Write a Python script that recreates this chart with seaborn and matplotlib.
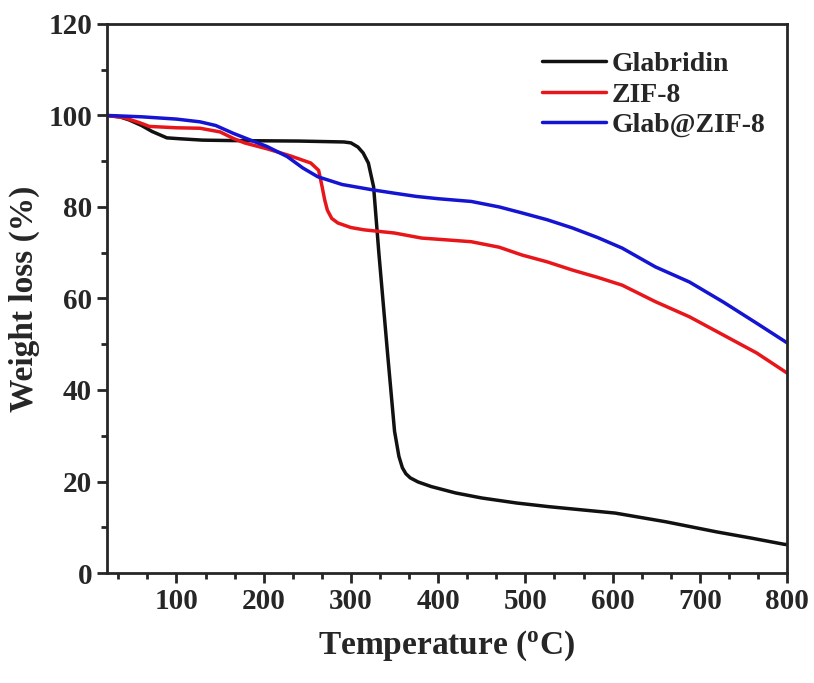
import numpy as np
import pandas as pd
import matplotlib
matplotlib.use("Agg")
import matplotlib.pyplot as plt
import seaborn as sns
from matplotlib.ticker import MultipleLocator, AutoMinorLocator

# TGA curves
glab_t = [20, 35, 46, 60, 72, 89, 104, 130, 165, 240, 292, 300, 308, 314, 320, 326, 332,
          342, 350, 355, 359, 363, 368, 377, 392, 420, 450, 490, 527, 565, 603, 661, 719, 760, 796, 800]
glab_w = [100, 99.7, 99, 97.8, 96.5, 95.1, 94.9, 94.6, 94.5, 94.4, 94.2, 94.0, 93.1, 91.8, 89.6, 84.4, 70,
          48, 31, 25.5, 23.0, 21.7, 20.8, 19.9, 18.9, 17.5, 16.4, 15.3, 14.5, 13.8, 13.1, 11.2, 9.0, 7.6, 6.3, 6.2]

zif_t = [20, 40, 58, 69, 100, 127, 150, 165, 178, 190, 204, 230, 254, 263, 267, 270, 273, 278,
         285, 300, 315, 350, 381, 410, 438, 470, 496, 525, 554, 583, 611, 649, 688, 727, 765, 800]
zif_w = [100, 99.5, 98.4, 97.6, 97.3, 97.2, 96.4, 95.0, 94.0, 93.4, 92.7, 91.2, 89.6, 88, 84.4, 81.5, 79.3, 77.5,
         76.5, 75.5, 75, 74.3, 73.2, 72.8, 72.4, 71.2, 69.5, 68.0, 66.2, 64.6, 62.9, 59.3, 56, 52, 48.1, 43.7]

comp_t = [20, 60, 100, 127, 145, 165, 185, 204, 227, 245, 262, 290, 326, 350, 375, 400,
          438, 470, 496, 525, 554, 583, 611, 649, 688, 727, 765, 800]
comp_w = [100, 99.7, 99.2, 98.6, 97.8, 96.1, 94.6, 93.2, 91.0, 88.5, 86.6, 84.9, 83.7, 83.0, 82.3, 81.8,
          81.2, 80.0, 78.7, 77.2, 75.4, 73.3, 71.0, 66.9, 63.6, 59.2, 54.6, 50.3]

labels = ["Glabridin", "ZIF-8", "Glab@ZIF-8"]
colors = {"Glabridin": "#111111", "ZIF-8": "#e8161b", "Glab@ZIF-8": "#1414d2"}

df = pd.concat([
    pd.DataFrame({"T": glab_t, "W": glab_w, "sample": labels[0]}),
    pd.DataFrame({"T": zif_t, "W": zif_w, "sample": labels[1]}),
    pd.DataFrame({"T": comp_t, "W": comp_w, "sample": labels[2]}),
])

sns.set_style("ticks")
plt.rcParams["font.family"] = ["Liberation Serif", "DejaVu Serif"]
plt.rcParams["font.weight"] = "bold"
plt.rcParams["mathtext.fontset"] = "custom"
plt.rcParams["mathtext.rm"] = "Liberation Serif:bold"
plt.rcParams["mathtext.bf"] = "Liberation Serif:bold"

fig = plt.figure(figsize=(8.14, 6.83), dpi=100)
ax = fig.add_axes([0.131, 0.161, 0.836, 0.804])

sns.lineplot(data=df, x="T", y="W", hue="sample", hue_order=labels, palette=colors,
             linewidth=2.5, sort=True, estimator=None, ax=ax)

ax.set_xlim(20, 800)
ax.set_ylim(0, 120)
ax.xaxis.set_major_locator(MultipleLocator(100))
ax.xaxis.set_minor_locator(AutoMinorLocator(3))
ax.yaxis.set_major_locator(MultipleLocator(20))
ax.yaxis.set_minor_locator(AutoMinorLocator(2))
ax.tick_params(which="major", length=7, width=2, labelsize=21, direction="out")
ax.tick_params(which="minor", length=4, width=2, direction="out")
for lab in ax.get_xticklabels() + ax.get_yticklabels():
    lab.set_fontweight("bold")
for sp in ax.spines.values():
    sp.set_linewidth(2)

ax.set_xlabel(r"Temperature ($\mathregular{^o}$C)", fontsize=24, fontweight="bold", labelpad=10)
ax.set_ylabel("Weight loss (%)", fontsize=24, fontweight="bold", labelpad=6)

leg = ax.legend(loc="upper right", frameon=False, handlelength=2.3, handletextpad=0.2,
                labelspacing=0.18, prop={"size": 20, "weight": "bold"},
                bbox_to_anchor=(1.005, 0.995))
for line in leg.get_lines():
    line.set_linewidth(2.5)

fig.savefig("out.png", dpi=100)
